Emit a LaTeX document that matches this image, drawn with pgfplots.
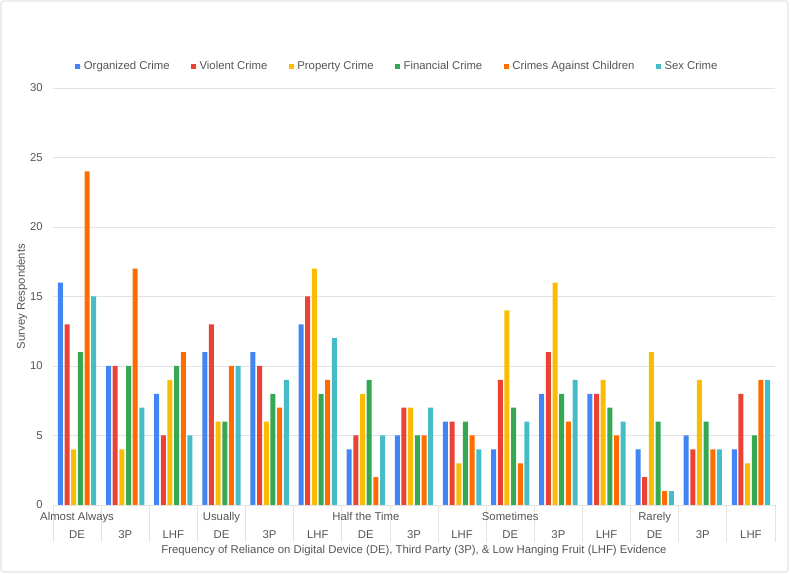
\documentclass[border=0pt]{standalone}
\usepackage{fontspec}
\setmainfont{Liberation Sans}
\usepackage{pgfplots}
\usepackage{pgfplotstable}
\pgfplotsset{compat=1.18}

\definecolor{cOrg}{HTML}{4285F4}
\definecolor{cVio}{HTML}{EA4335}
\definecolor{cPro}{HTML}{FBBC04}
\definecolor{cFin}{HTML}{34A853}
\definecolor{cChi}{HTML}{FF6D01}
\definecolor{cSex}{HTML}{46BDC6}
\definecolor{txtgray}{HTML}{555555}
\definecolor{gridgray}{HTML}{E3E3E3}

% x = group (frequency x evidence type)
\pgfplotstableread{
x org vio pro fin chi sex
0  16 13 4  11 24 15
1  10 10 4  10 17 7
2  8  5  9  10 11 5
3  11 13 6  6  10 10
4  11 10 6  8  7  9
5  13 15 17 8  9  12
6  4  5  8  9  2  5
7  5  7  7  5  5  7
8  6  6  3  6  5  4
9  4  9  14 7  3  6
10 8  11 16 8  6  9
11 8  8  9  7  5  6
12 4  2  11 6  1  1
13 5  4  9  6  4  4
14 4  8  3  5  9  9
}\crimedata

\newcommand{\fs}{\fontsize{8.5}{10}\selectfont}

\begin{document}
\begin{tikzpicture}
\begin{axis}[
    name=main,
    scale only axis,
    width=541.5pt, height=312.75pt,
    xmin=-0.5, xmax=14.5,
    ymin=0, ymax=30,
    ytick={0,5,...,30},
    xtick={0,...,14},
    xticklabels={DE,3P,LHF,DE,3P,LHF,DE,3P,LHF,DE,3P,LHF,DE,3P,LHF},
    major tick length=0pt,
    axis line style={draw=none},
    ymajorgrids=true,
    grid style={gridgray, line width=0.6pt},
    ybar=1.25pt,
    bar width=3.75pt,
    clip=false,
    /pgf/number format/assume math mode=true,
    tick label style={font=\fs, text=txtgray},
    xticklabel style={anchor=base, yshift=-25.5pt, inner sep=0pt},
    yticklabel style={anchor=east, inner sep=0pt, xshift=-7.5pt},
    legend columns=6,
    legend style={
        draw=none, fill=none,
        font=\fs, text=txtgray,
        at={(rel axis cs:0.476,1)}, anchor=center, yshift=16pt,
        /tikz/every even column/.append style={column sep=14.5pt},
        nodes={inner sep=1pt},
    },
    legend image code/.code={
        \fill[#1,draw=none] (0.4pt,-2pt) rectangle (4.4pt,2pt);
        \path (0pt,0pt) -- (6pt,0pt);
    },
]
\addplot[fill=cOrg, draw=none] table[x=x, y=org] {\crimedata};
\addplot[fill=cVio, draw=none] table[x=x, y=vio] {\crimedata};
\addplot[fill=cPro, draw=none] table[x=x, y=pro] {\crimedata};
\addplot[fill=cFin, draw=none] table[x=x, y=fin] {\crimedata};
\addplot[fill=cChi, draw=none] table[x=x, y=chi] {\crimedata};
\addplot[fill=cSex, draw=none] table[x=x, y=sex] {\crimedata};
\legend{Organized Crime, Violent Crime, Property Crime, Financial Crime, Crimes Against Children, Sex Crime}

\pgfplotsinvokeforeach{-0.5,0.5,...,14.5}{
  \draw[gridgray, line width=0.6pt] (axis cs:#1,0) -- ([yshift=-27.75pt]axis cs:#1,0);
}
\node[font=\fs, text=txtgray, anchor=base, inner sep=0pt] at ([yshift=-12pt]axis cs:0,0) {Almost Always};
\node[font=\fs, text=txtgray, anchor=base, inner sep=0pt] at ([yshift=-12pt]axis cs:3,0) {Usually};
\node[font=\fs, text=txtgray, anchor=base, inner sep=0pt] at ([yshift=-12pt]axis cs:6,0) {Half the Time};
\node[font=\fs, text=txtgray, anchor=base, inner sep=0pt] at ([yshift=-12pt]axis cs:9,0) {Sometimes};
\node[font=\fs, text=txtgray, anchor=base, inner sep=0pt] at ([yshift=-12pt]axis cs:12,0) {Rarely};
\node[font=\fs, text=txtgray] at ([yshift=-34.5pt]axis cs:7,0) {Frequency of Reliance on Digital Device (DE), Third Party (3P), \& Low Hanging Fruit (LHF) Evidence};
\node[font=\fs, text=txtgray, rotate=90] at ([xshift=-23.25pt]rel axis cs:0,0.5) {Survey Respondents};
\end{axis}
\draw[gridgray, line width=0.8pt, rounded corners=2pt]
  ([xshift=-39pt, yshift=-50.25pt]main.south west) rectangle ([xshift=551.25pt, yshift=378pt]main.south west);
\pgfresetboundingbox
\path ([xshift=-39.75pt, yshift=-51.75pt]main.south west) rectangle ([xshift=552.75pt, yshift=378.75pt]main.south west);
\end{tikzpicture}
\end{document}
